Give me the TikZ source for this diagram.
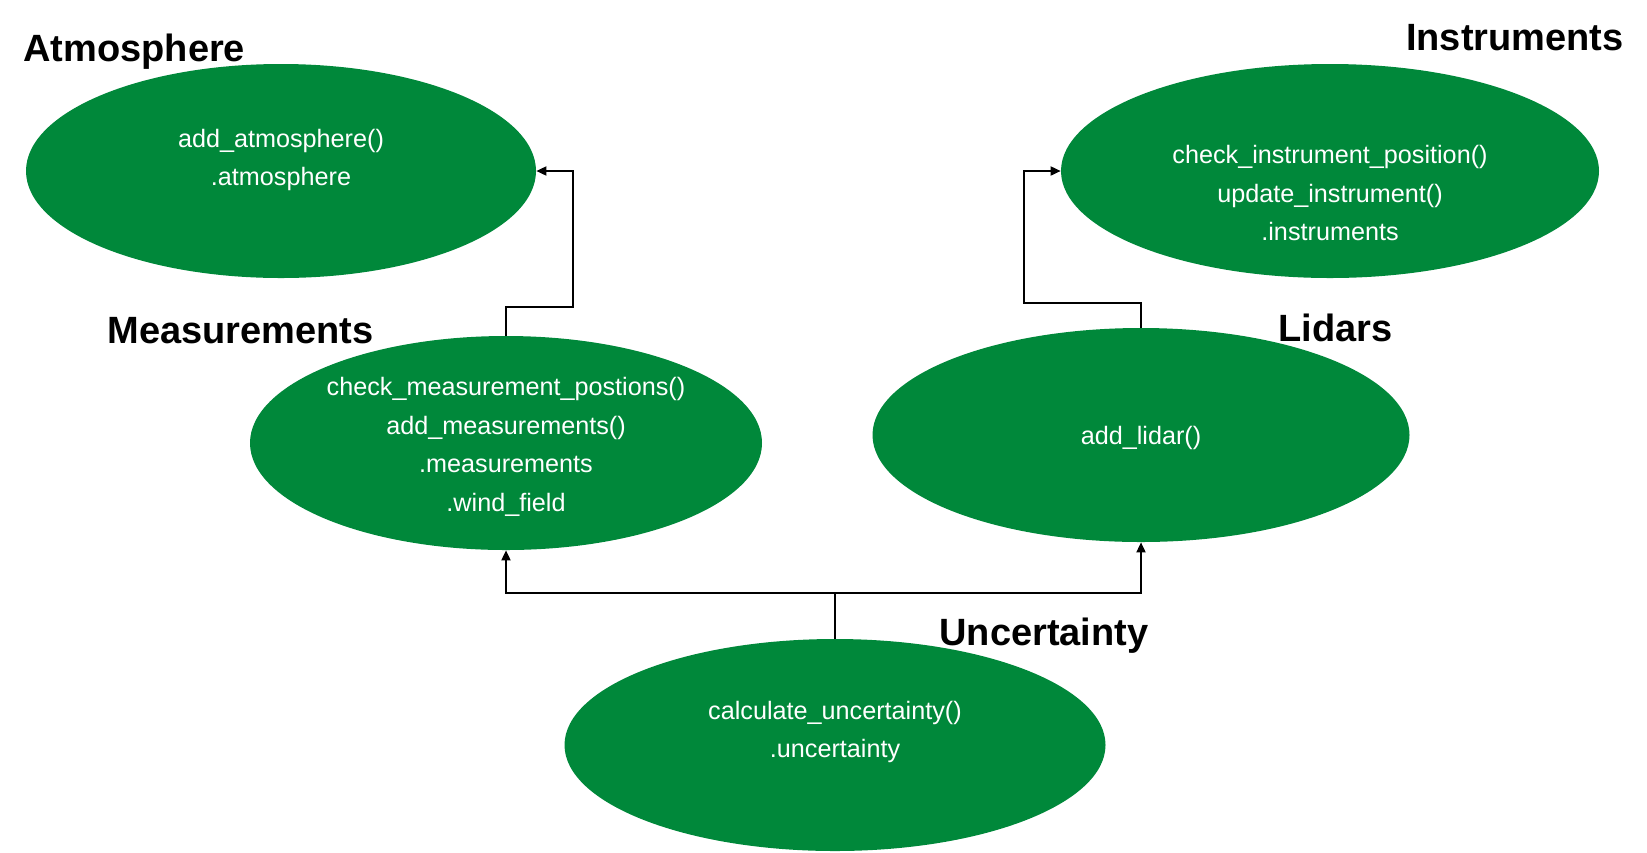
\documentclass[tikz,border=0pt]{standalone}
\usepackage{fontspec}
\setmainfont{Liberation Sans}
\usetikzlibrary{arrows.meta,shapes.geometric}
\definecolor{classgreen}{RGB}{0,136,58}
\begin{document}
\begin{tikzpicture}[x=0.5pt, y=-0.5pt,
    cls/.style={ellipse, fill=classgreen, draw=none, inner sep=0pt, minimum height=107pt},
    fn/.style={text=white, align=center, inner sep=0pt, font=\fontsize{12.6}{19.25}\selectfont},
    title/.style={inner sep=0pt, font=\fontsize{19}{22}\selectfont\bfseries},
    link/.style={line width=0.65pt, -{Triangle[length=5pt,width=4.6pt]}}]
      \useasboundingbox (0,0) rectangle (1647,852);
      \node[cls, minimum width=255pt] (atm) at (281,171) {};
      \node[cls, minimum width=269pt] (inst) at (1330,171) {};
      \node[cls, minimum width=256pt] (meas) at (506,443) {};
      \node[cls, minimum width=268.5pt] (lid) at (1141,435) {};
      \node[cls, minimum width=270.5pt, minimum height=106pt] (unc) at (835,745) {};
      \node[fn] (atm_text) at (281,160) {add\_atmosphere()\\.atmosphere};
      \node[fn] (inst_text) at (1330,193) {check\_instrument\_position()\\update\_instrument()\\.instruments};
      \node[fn] (meas_text) at (506,447) {check\_measurement\_postions()\\add\_measurements()\\.measurements\\.wind\_field};
      \node[fn] (lid_text) at (1141,438) {add\_lidar()};
      \node[fn] (unc_text) at (835,732) {calculate\_uncertainty()\\.uncertainty};
      \node[title, anchor=base west] (atm_title) at (23,61) {Atmosphere};
      \node[title, anchor=base east] (inst_title) at (1624,50) {Instruments};
      \node[title, anchor=base west] (meas_title) at (107,343) {Measurements};
      \node[title, anchor=base east] (lid_title) at (1393,341) {Lidars};
      \node[title, anchor=base west] (unc_title) at (939,645) {Uncertainty};
      \coordinate (meas_up) at (573,307);
      \coordinate (lid_up) at (1024,303);
      \coordinate (unc_up) at (835,593);
      \draw[link] (meas.north) |- (meas_up) |- (atm.east);
      \draw[link] (lid.north) |- (lid_up) |- (inst.west);
      \draw[link] (unc.north) -- (unc_up) -| (meas.south);
      \draw[link] (unc_up) -| (lid.south);
\end{tikzpicture}
\end{document}
